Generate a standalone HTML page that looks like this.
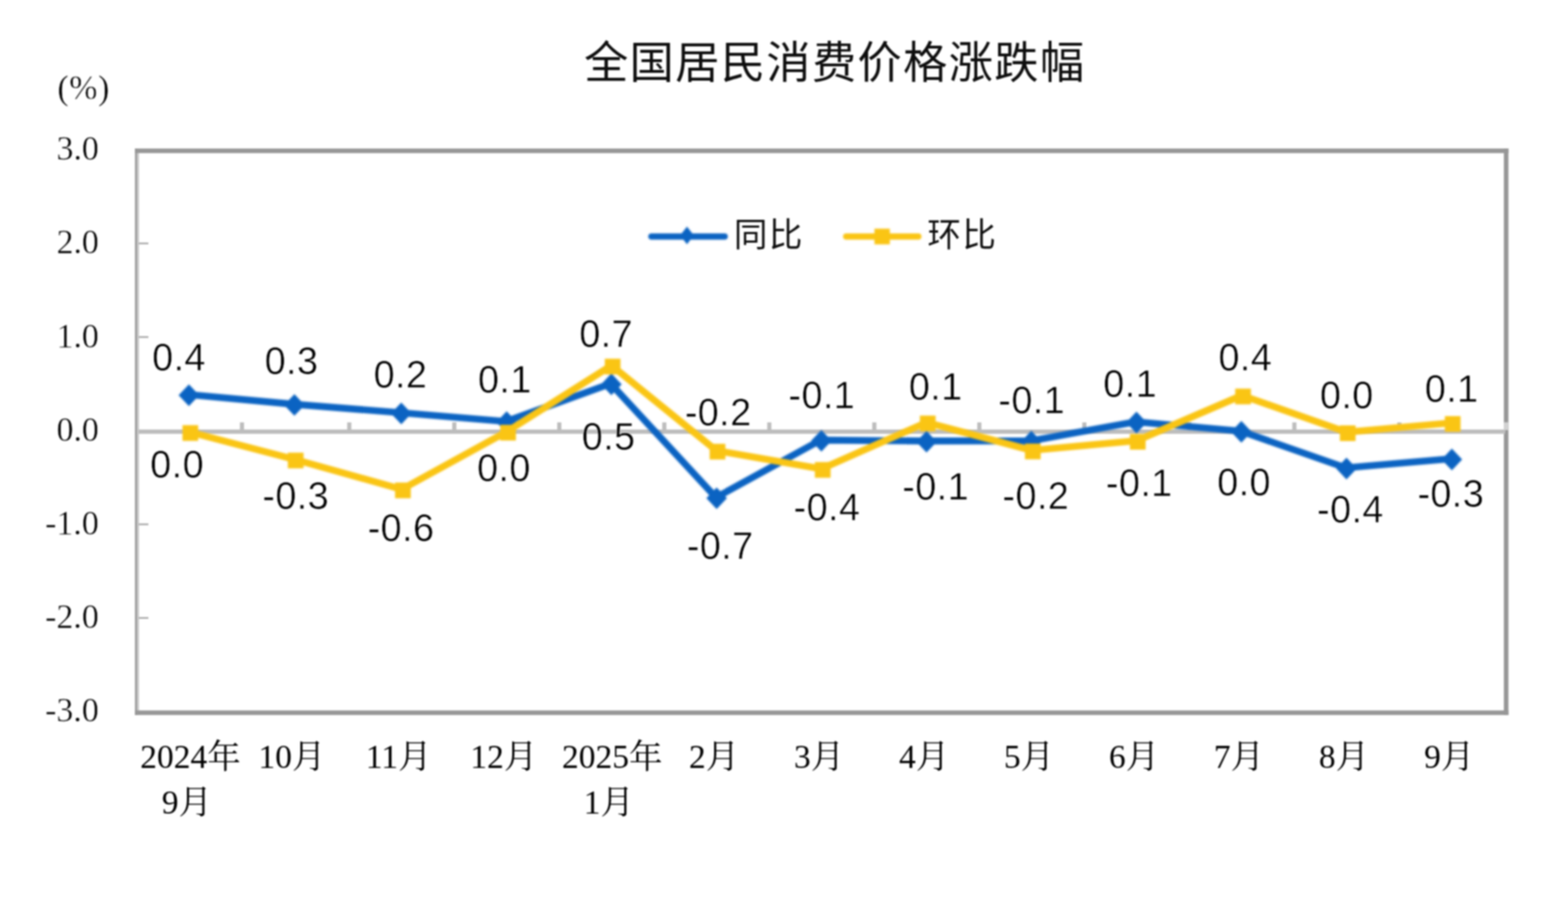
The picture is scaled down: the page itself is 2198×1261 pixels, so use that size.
<!DOCTYPE html>
<html lang="zh"><head><meta charset="utf-8"><title>全国居民消费价格涨跌幅</title>
<style>
html,body{margin:0;padding:0;background:#fff;}
body{width:2198px;height:1261px;overflow:hidden;font-family:"Liberation Sans",sans-serif;}
svg{display:block;}
</style></head><body>
<svg width="2198" height="1261" viewBox="0 0 2198 1261">
<defs><filter id="soft" filterUnits="userSpaceOnUse" x="0" y="0" width="2198" height="1261" color-interpolation-filters="sRGB"><feGaussianBlur stdDeviation="0.8"/></filter><filter id="soft2" filterUnits="userSpaceOnUse" x="0" y="0" width="2198" height="1261" color-interpolation-filters="sRGB"><feGaussianBlur stdDeviation="1.0"/></filter></defs>
<rect width="2198" height="1261" fill="#fff"/>
<g filter="url(#soft)">
<rect width="2198" height="1261" fill="#fff"/>
<g id="title">
<text x="818.7" y="110" font-family="'Liberation Sans', 'Noto Sans CJK SC', sans-serif" font-size="62" letter-spacing="1.9" fill="#0d0d0d">全国居民消费价格涨跌幅</text>
</g>
<g font-family="'Liberation Serif', serif" font-size="47.5" fill="#000" stroke="#fff" stroke-width="0.5">
<text x="80.5" y="139.3" letter-spacing="0.8">(%)</text>
<text x="138.5" y="224.1" text-anchor="end">3.0</text>
<text x="138.5" y="355.3" text-anchor="end">2.0</text>
<text x="138.5" y="486.5" text-anchor="end">1.0</text>
<text x="138.5" y="617.7" text-anchor="end">0.0</text>
<text x="138.5" y="748.9" text-anchor="end">-1.0</text>
<text x="138.5" y="880.1" text-anchor="end">-2.0</text>
<text x="138.5" y="1011.3" text-anchor="end">-3.0</text>
</g>
<g id="frame">
<rect x="189.2" y="208.1" width="3.3" height="793.7" fill="#9b9b9b"/>
<rect x="192.5" y="208.1" width="2.4" height="793.7" fill="#c9c9c9"/>
<rect x="189.2" y="208.1" width="1925.3" height="6.4" fill="#979797"/>
<rect x="2108.1" y="208.1" width="6.4" height="793.7" fill="#979797"/>
<rect x="189.2" y="995.4" width="1925.3" height="6.4" fill="#979797"/>
<rect x="194.5" y="339.9" width="13.5" height="2.3" fill="#a6a6a6"/>
<rect x="194.5" y="471.1" width="13.5" height="2.3" fill="#a6a6a6"/>
<rect x="194.5" y="733.5" width="13.5" height="2.3" fill="#a6a6a6"/>
<rect x="194.5" y="864.7" width="13.5" height="2.3" fill="#a6a6a6"/>
<rect x="194" y="601.8" width="1916" height="6.0" fill="#bdbdbd"/>
<rect x="336.3" y="591.8" width="5.8" height="12" fill="#bdbdbd"/>
<rect x="486.7" y="591.8" width="5.8" height="12" fill="#bdbdbd"/>
<rect x="633.9" y="591.8" width="5.8" height="12" fill="#bdbdbd"/>
<rect x="781.1" y="591.8" width="5.8" height="12" fill="#bdbdbd"/>
<rect x="928.3" y="591.8" width="5.8" height="12" fill="#bdbdbd"/>
<rect x="1075.5" y="591.8" width="5.8" height="12" fill="#bdbdbd"/>
<rect x="1222.7" y="591.8" width="5.8" height="12" fill="#bdbdbd"/>
<rect x="1369.9" y="591.8" width="5.8" height="12" fill="#bdbdbd"/>
<rect x="1517.1" y="591.8" width="5.8" height="12" fill="#bdbdbd"/>
<rect x="1664.3" y="591.8" width="5.8" height="12" fill="#bdbdbd"/>
<rect x="1811.5" y="591.8" width="5.8" height="12" fill="#bdbdbd"/>
<rect x="1958.7" y="591.8" width="5.8" height="12" fill="#bdbdbd"/>
<rect x="2108.1" y="591.7" width="6.4" height="11" fill="#d2d2d2"/>
</g>
<g filter="url(#soft2)">
<polyline points="263.8,552.8 411.7,566.4 561.5,578.2 709.2,590.5 856.0,537.5 1003.6,697.1 1150.4,616.6 1297.8,617.9 1444.7,617.7 1592.1,591.0 1739.1,604.0 1886.5,655.5 2034.2,642.7" fill="none" stroke="#0b63c2" stroke-width="9.6" stroke-linejoin="round" stroke-linecap="round"/>
<path d="M250.4 553.8L264.8 538.6L279.2 553.8L264.8 569.0Z" fill="#0b63c2"/>
<path d="M398.3 567.4L412.7 552.2L427.1 567.4L412.7 582.6Z" fill="#0b63c2"/>
<path d="M548.1 579.2L562.5 564.0L576.9 579.2L562.5 594.4Z" fill="#0b63c2"/>
<path d="M695.8 591.5L710.2 576.3L724.6 591.5L710.2 606.7Z" fill="#0b63c2"/>
<path d="M842.6 538.5L857.0 523.3L871.4 538.5L857.0 553.7Z" fill="#0b63c2"/>
<path d="M990.2 698.1L1004.6 682.9L1019.0 698.1L1004.6 713.3Z" fill="#0b63c2"/>
<path d="M1137.0 617.6L1151.4 602.4L1165.8 617.6L1151.4 632.8Z" fill="#0b63c2"/>
<path d="M1284.4 618.9L1298.8 603.7L1313.2 618.9L1298.8 634.1Z" fill="#0b63c2"/>
<path d="M1431.3 618.7L1445.7 603.5L1460.1 618.7L1445.7 633.9Z" fill="#0b63c2"/>
<path d="M1578.7 592.0L1593.1 576.8L1607.5 592.0L1593.1 607.2Z" fill="#0b63c2"/>
<path d="M1725.7 605.0L1740.1 589.8L1754.5 605.0L1740.1 620.2Z" fill="#0b63c2"/>
<path d="M1873.1 656.5L1887.5 641.3L1901.9 656.5L1887.5 671.7Z" fill="#0b63c2"/>
<path d="M2020.8 643.7L2035.2 628.5L2049.6 643.7L2035.2 658.9Z" fill="#0b63c2"/>
<polyline points="265.1,605.2 412.8,643.7 563.1,685.6 710.5,604.7 857.1,512.1 1004.1,631.3 1151.6,656.9 1298.8,591.8 1446.1,631.0 1593.2,617.5 1740.8,554.0 1887.5,605.5 2034.7,592.5" fill="none" stroke="#fac514" stroke-width="9.6" stroke-linejoin="round" stroke-linecap="round"/>
<rect x="255.8" y="595.7" width="22" height="22" fill="#fac514"/>
<rect x="403.5" y="634.2" width="22" height="22" fill="#fac514"/>
<rect x="553.8" y="676.1" width="22" height="22" fill="#fac514"/>
<rect x="701.2" y="595.2" width="22" height="22" fill="#fac514"/>
<rect x="847.8" y="502.6" width="22" height="22" fill="#fac514"/>
<rect x="994.8" y="621.8" width="22" height="22" fill="#fac514"/>
<rect x="1142.3" y="647.4" width="22" height="22" fill="#fac514"/>
<rect x="1289.5" y="582.3" width="22" height="22" fill="#fac514"/>
<rect x="1436.8" y="621.5" width="22" height="22" fill="#fac514"/>
<rect x="1583.9" y="608.0" width="22" height="22" fill="#fac514"/>
<rect x="1731.5" y="544.5" width="22" height="22" fill="#fac514"/>
<rect x="1878.2" y="596.0" width="22" height="22" fill="#fac514"/>
<rect x="2025.4" y="583.0" width="22" height="22" fill="#fac514"/>
</g>
<g font-family="'Liberation Sans', sans-serif" font-size="53" fill="#000" letter-spacing="0.55" stroke="#fff" stroke-width="0.6" stroke-linejoin="round">
<text x="213.2" y="518.9">0.4</text>
<text x="371.0" y="523.9">0.3</text>
<text x="523.7" y="543.4">0.2</text>
<text x="670.0" y="550.2">0.1</text>
<text x="812.0" y="486.4">0.7</text>
<text x="815.4" y="629.7">0.5</text>
<text x="210.6" y="668.9">0.0</text>
<text x="367.8" y="713.3">-0.3</text>
<text x="515.4" y="757.7">-0.6</text>
<text x="668.7" y="674.1">0.0</text>
<text x="959.9" y="595.6">-0.2</text>
<text x="1105.3" y="571.7">-0.1</text>
<text x="1273.9" y="559.8">0.1</text>
<text x="1399.6" y="578.6">-0.1</text>
<text x="1546.6" y="555.5">0.1</text>
<text x="962.7" y="783.3">-0.7</text>
<text x="1112.6" y="728.7">-0.4</text>
<text x="1264.8" y="699.7">-0.1</text>
<text x="1405.2" y="713.3">-0.2</text>
<text x="1550.3" y="694.5">-0.1</text>
<text x="1707.9" y="518.8">0.4</text>
<text x="1706.2" y="694.4">0.0</text>
<text x="1850.2" y="571.6">0.0</text>
<text x="1846.3" y="731.9">-0.4</text>
<text x="1997.2" y="563.1">0.1</text>
<text x="1986.9" y="709.7">-0.3</text>
</g>
<g filter="url(#soft2)">
<line x1="913" y1="331.4" x2="1016" y2="331.4" stroke="#0b63c2" stroke-width="8.6" stroke-linecap="round"/>
<path d="M953.4 329.79999999999995L963 317.4L972.6 329.79999999999995L963 342.2Z" fill="#0b63c2"/>
<line x1="1186" y1="331.4" x2="1287.5" y2="331.4" stroke="#fac514" stroke-width="8.6" stroke-linecap="round"/>
<rect x="1225.8" y="320.4" width="21.6" height="22" fill="#fac514"/>
</g>
<text x="1028.7" y="345" font-family="'Liberation Sans', 'Noto Sans CJK SC', sans-serif" font-size="47" letter-spacing="2" fill="#0d0d0d">同比</text>
<text x="1300" y="345.2" font-family="'Liberation Sans', 'Noto Sans CJK SC', sans-serif" font-size="47" letter-spacing="2" fill="#0d0d0d">环比</text>
<g font-family="'Liberation Serif', 'Noto Serif CJK SC', serif" font-size="47" fill="#000" text-anchor="middle">
<text x="267" y="1075.5">2024年</text>
<text x="409.2" y="1075.5">10月</text>
<text x="559" y="1075.5">11月</text>
<text x="706.2" y="1075.5">12月</text>
<text x="858.2" y="1075.5">2025年</text>
<text x="1001" y="1075.5">2月</text>
<text x="1148.2" y="1075.5">3月</text>
<text x="1295.4" y="1075.5">4月</text>
<text x="1442.4" y="1075.5">5月</text>
<text x="1589.8" y="1075.5">6月</text>
<text x="1736.7" y="1075.5">7月</text>
<text x="1884" y="1075.5">8月</text>
<text x="2031.5" y="1075.5">9月</text>
<text x="261.9" y="1139.5">9月</text>
<text x="853.5" y="1139.5">1月</text>
</g>
</g>
</svg>
</body></html>
